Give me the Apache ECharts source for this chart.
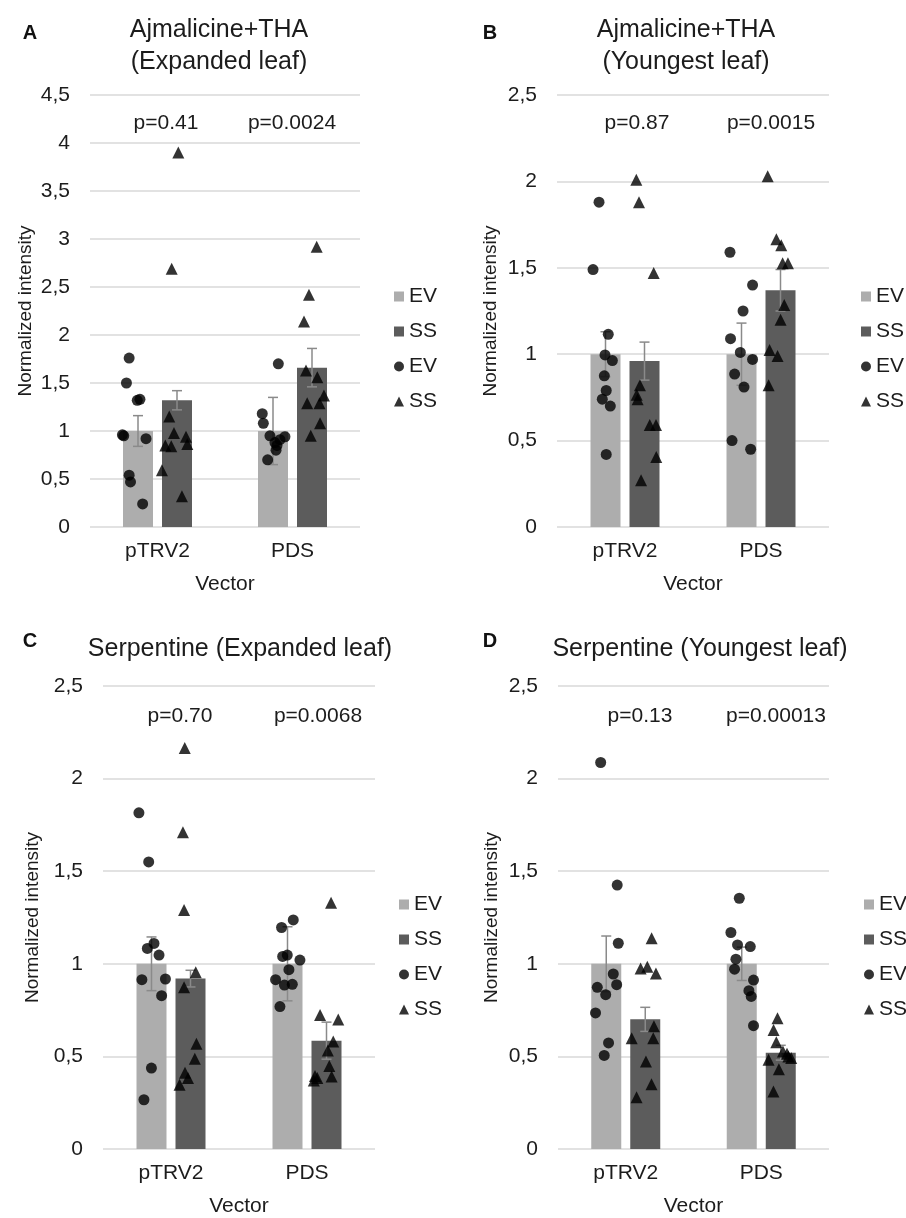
<!DOCTYPE html>
<html>
<head>
<meta charset="utf-8">
<script src="https://cdn.jsdelivr.net/npm/echarts@6/dist/echarts.min.js"></script>
<style>
html, body { margin: 0; padding: 0; background: #fff; }
#chart { width: 906px; height: 1218px; }
</style>
</head>
<body>
<div id="chart"></div>
<script>
var categories = ['pTRV2', 'PDS'];
var ticksTall = ['0', '0,5', '1', '1,5', '2', '2,5', '3', '3,5', '4', '4,5'];
var ticksShort = ['0', '0,5', '1', '1,5', '2', '2,5'];

// A: Ajmalicine+THA (Expanded leaf)
var aEVMean = [1.0, 1.0];
var aEVErr = [0.16, 0.35];
var aSSMean = [1.32, 1.66];
var aSSErr = [0.10, 0.20];
var aEVDots = [[-0.21, 1.76], [-0.23, 1.50], [-0.15, 1.32], [-0.13, 1.33], [-0.25, 0.95], [-0.26, 0.96], [-0.085, 0.92], [-0.21, 0.54], [-0.20, 0.47], [-0.11, 0.24],
  [0.895, 1.70], [0.776, 1.18], [0.784, 1.08], [0.833, 0.95], [0.944, 0.94], [0.907, 0.91], [0.87, 0.88], [0.885, 0.85], [0.878, 0.80], [0.816, 0.70]];
var aSSDots = [[0.154, 3.90], [0.105, 2.69], [0.087, 1.15], [0.122, 0.98], [0.211, 0.94], [0.058, 0.85], [0.102, 0.84], [0.221, 0.865], [0.033, 0.59], [0.181, 0.32],
  [1.179, 2.92], [1.122, 2.42], [1.085, 2.14], [1.10, 1.63], [1.184, 1.56], [1.233, 1.37], [1.109, 1.29], [1.20, 1.29], [1.204, 1.08], [1.135, 0.95]];

// B: Ajmalicine+THA (Youngest leaf)
var bEVMean = [1.0, 1.0];
var bEVErr = [0.13, 0.18];
var bSSMean = [0.96, 1.37];
var bSSErr = [0.11, 0.12];
var bEVDots = [[-0.191, 1.88], [-0.235, 1.49], [-0.123, 1.115], [-0.147, 0.996], [-0.093, 0.963], [-0.152, 0.875], [-0.138, 0.79], [-0.167, 0.74], [-0.108, 0.70], [-0.138, 0.42],
  [0.772, 1.59], [0.938, 1.40], [0.868, 1.25], [0.776, 1.09], [0.848, 1.01], [0.938, 0.97], [0.806, 0.885], [0.875, 0.81], [0.787, 0.50], [0.924, 0.45]];
var bSSDots = [[0.083, 2.01], [0.103, 1.88], [0.211, 1.47], [0.11, 0.82], [0.086, 0.765], [0.093, 0.74], [0.182, 0.59], [0.228, 0.59], [0.23, 0.405], [0.118, 0.27],
  [1.049, 2.03], [1.113, 1.665], [1.149, 1.63], [1.159, 1.526], [1.198, 1.526], [1.171, 1.285], [1.144, 1.20], [1.063, 1.025], [1.122, 0.99], [1.056, 0.82]];

// C: Serpentine (Expanded leaf)
var cEVMean = [1.0, 1.0];
var cEVErr = [0.145, 0.20];
var cSSMean = [0.92, 0.585];
var cSSErr = [0.045, 0.10];
var cEVDots = [[-0.236, 1.815], [-0.164, 1.55], [-0.174, 1.083], [-0.125, 1.11], [-0.088, 1.047], [-0.214, 0.914], [-0.041, 0.918], [-0.069, 0.828], [-0.144, 0.437], [-0.199, 0.266],
  [0.899, 1.237], [0.813, 1.196], [0.821, 1.04], [0.855, 1.047], [0.948, 1.02], [0.867, 0.968], [0.769, 0.914], [0.834, 0.885], [0.892, 0.889], [0.801, 0.769]];
var cSSDots = [[0.101, 2.165], [0.088, 1.71], [0.096, 1.29], [0.182, 0.954], [0.096, 0.873], [0.187, 0.568], [0.175, 0.487], [0.103, 0.412], [0.125, 0.383], [0.063, 0.347],
  [1.177, 1.33], [1.096, 0.724], [1.23, 0.699], [1.193, 0.58], [1.153, 0.532], [1.164, 0.448], [1.181, 0.392], [1.059, 0.394], [1.076, 0.383], [1.05, 0.37]];

// D: Serpentine (Youngest leaf)
var dEVMean = [1.0, 1.0];
var dEVErr = [0.15, 0.09];
var dSSMean = [0.70, 0.52];
var dSSErr = [0.065, 0.04];
var dEVDots = [[-0.185, 2.087], [-0.063, 1.425], [-0.055, 1.111], [-0.092, 0.945], [-0.067, 0.887], [-0.21, 0.873], [-0.148, 0.833], [-0.223, 0.735], [-0.127, 0.573], [-0.159, 0.505],
  [0.838, 1.354], [0.776, 1.169], [0.825, 1.102], [0.919, 1.093], [0.813, 1.025], [0.803, 0.971], [0.943, 0.912], [0.909, 0.855], [0.926, 0.824], [0.943, 0.666]];
var dSSDots = [[0.191, 1.138], [0.11, 0.975], [0.159, 0.984], [0.223, 0.948], [0.208, 0.663], [0.044, 0.598], [0.203, 0.598], [0.149, 0.473], [0.19, 0.35], [0.08, 0.28],
  [1.12, 0.706], [1.091, 0.643], [1.111, 0.577], [1.16, 0.526], [1.19, 0.514], [1.221, 0.491], [1.054, 0.482], [1.20, 0.50], [1.13, 0.43], [1.09, 0.31]];

var pValues = [['p=0.41', 'p=0.0024'], ['p=0.87', 'p=0.0015'], ['p=0.70', 'p=0.0068'], ['p=0.13', 'p=0.00013']];
var titles = [['Ajmalicine+THA', '(Expanded leaf)'], ['Ajmalicine+THA', '(Youngest leaf)'], ['Serpentine (Expanded leaf)'], ['Serpentine (Youngest leaf)']];
var letters = ['A', 'B', 'C', 'D'];

var FONT = 'Liberation Sans, Arial, sans-serif';
var TXT = '#1c1c1c';
var EV_COLOR = '#adadad';
var SS_COLOR = '#5c5c5c';
var BAR_W = 30;
var BAR_GAP = 9;

// where each panel sits on the page
var layout = [
  { grid: { left: 90, top: 95, width: 270, height: 432 }, max: 4.5, ticks: ticksTall, nameGap: 55,
    legend: { left: 389, top: 281 }, title: [219, 30, 62], letter: [30, 33], pY: 123, pX: [166, 292] },
  { grid: { left: 557, top: 95, width: 272, height: 432 }, max: 2.5, ticks: ticksShort, nameGap: 57,
    legend: { left: 856, top: 281 }, title: [686, 30, 62], letter: [490, 33], pY: 123, pX: [637, 771] },
  { grid: { left: 103, top: 686, width: 272, height: 464 }, max: 2.5, ticks: ticksShort, nameGap: 61,
    legend: { left: 394, top: 889 }, title: [240, 649], letter: [30, 641], pY: 716, pX: [180, 318] },
  { grid: { left: 558, top: 686, width: 271, height: 464 }, max: 2.5, ticks: ticksShort, nameGap: 57,
    legend: { left: 859, top: 889 }, title: [700, 649], letter: [490, 641], pY: 716, pX: [640, 776] }
];

var panelData = [
  { ev: aEVMean, evErr: aEVErr, ss: aSSMean, ssErr: aSSErr, evDots: aEVDots, ssDots: aSSDots },
  { ev: bEVMean, evErr: bEVErr, ss: bSSMean, ssErr: bSSErr, evDots: bEVDots, ssDots: bSSDots },
  { ev: cEVMean, evErr: cEVErr, ss: cSSMean, ssErr: cSSErr, evDots: cEVDots, ssDots: cSSDots },
  { ev: dEVMean, evErr: dEVErr, ss: dSSMean, ssErr: dSSErr, evDots: dEVDots, ssDots: dSSDots }
];

function errorBars(k, means, errs, side) {
  return {
    type: 'custom',
    xAxisIndex: k * 2,
    yAxisIndex: k,
    z: 3,
    silent: true,
    data: means.map(function (m, i) { return [i, m, errs[i]]; }),
    renderItem: function (params, api) {
      var c = api.value(0), m = api.value(1), e = api.value(2);
      var hi = api.coord([c, m + e]);
      var lo = api.coord([c, m - e]);
      var x = hi[0] + side * (BAR_W + BAR_GAP) / 2;
      var st = { stroke: '#8a8a8a', lineWidth: 1.5 };
      return {
        type: 'group',
        children: [
          { type: 'line', shape: { x1: x, y1: hi[1], x2: x, y2: lo[1] }, style: st },
          { type: 'line', shape: { x1: x - 5, y1: hi[1], x2: x + 5, y2: hi[1] }, style: st },
          { type: 'line', shape: { x1: x - 5, y1: lo[1], x2: x + 5, y2: lo[1] }, style: st }
        ]
      };
    }
  };
}

var option = { animation: false, backgroundColor: '#fff', grid: [], xAxis: [], yAxis: [], legend: [], series: [], graphic: [] };

layout.forEach(function (L, k) {
  var D = panelData[k];
  option.grid.push(L.grid);
  option.xAxis.push({
    type: 'category', gridIndex: k, data: categories,
    axisLine: { show: false }, axisTick: { show: false },
    axisLabel: { fontSize: 21, color: TXT, fontFamily: FONT, margin: 14 },
    name: 'Vector', nameLocation: 'middle', nameGap: 47,
    nameTextStyle: { fontSize: 21, color: TXT, fontFamily: FONT }
  });
  option.xAxis.push({ type: 'value', gridIndex: k, min: -0.5, max: 1.5, show: false });
  option.yAxis.push({
    type: 'value', gridIndex: k, min: 0, max: L.max, interval: 0.5,
    axisLine: { show: false }, axisTick: { show: false },
    splitLine: { lineStyle: { color: '#d9d9d9', width: 1.5 } },
    axisLabel: {
      fontSize: 21, color: TXT, fontFamily: FONT, margin: 20,
      formatter: function (v, i) { return L.ticks[i]; }
    },
    name: 'Normalized intensity', nameLocation: 'middle', nameGap: L.nameGap,
    nameTextStyle: { fontSize: 19, color: TXT, fontFamily: FONT }
  });

  option.series.push({
    name: 'EV', type: 'bar', xAxisIndex: k * 2, yAxisIndex: k, data: D.ev,
    barWidth: BAR_W, barGap: (BAR_GAP / BAR_W * 100) + '%', itemStyle: { color: EV_COLOR }, z: 2
  });
  option.series.push({
    name: 'SS', type: 'bar', xAxisIndex: k * 2, yAxisIndex: k, data: D.ss,
    barWidth: BAR_W, itemStyle: { color: SS_COLOR }, z: 2
  });
  option.series.push(errorBars(k, D.ev, D.evErr, -1));
  option.series.push(errorBars(k, D.ss, D.ssErr, 1));
  option.series.push({
    name: ' EV', type: 'scatter', xAxisIndex: k * 2 + 1, yAxisIndex: k, data: D.evDots,
    symbol: 'circle', symbolSize: 11, itemStyle: { color: '#000' }, z: 4
  });
  option.series.push({
    name: ' SS', type: 'scatter', xAxisIndex: k * 2 + 1, yAxisIndex: k, data: D.ssDots,
    symbol: 'triangle', symbolSize: 12, itemStyle: { color: '#000' }, z: 4
  });

  option.legend.push({
    orient: 'vertical', left: L.legend.left, top: L.legend.top,
    itemWidth: 10, itemHeight: 10, itemGap: 14, selectedMode: false,
    textStyle: { fontSize: 21, color: TXT, fontFamily: FONT },
    formatter: function (n) { return n.trim(); },
    data: [{ name: 'EV', icon: 'rect' }, { name: 'SS', icon: 'rect' }, { name: ' EV', icon: 'circle' }, { name: ' SS', icon: 'triangle' }]
  });

  // panel letter, title and p-values
  option.graphic.push({
    type: 'text', x: L.letter[0], y: L.letter[1],
    style: { text: letters[k], font: 'bold 20px ' + FONT, fill: '#111', align: 'center', verticalAlign: 'middle' }
  });
  titles[k].forEach(function (line, j) {
    option.graphic.push({
      type: 'text', x: L.title[0], y: L.title[1 + j],
      style: { text: line, font: '25px ' + FONT, fill: TXT, align: 'center', verticalAlign: 'middle' }
    });
  });
  pValues[k].forEach(function (p, j) {
    option.graphic.push({
      type: 'text', x: L.pX[j], y: L.pY,
      style: { text: p, font: '21px ' + FONT, fill: TXT, align: 'center', verticalAlign: 'middle' }
    });
  });
});

var chart = echarts.init(document.getElementById('chart'));
chart.setOption(option);
</script>
</body>
</html>
